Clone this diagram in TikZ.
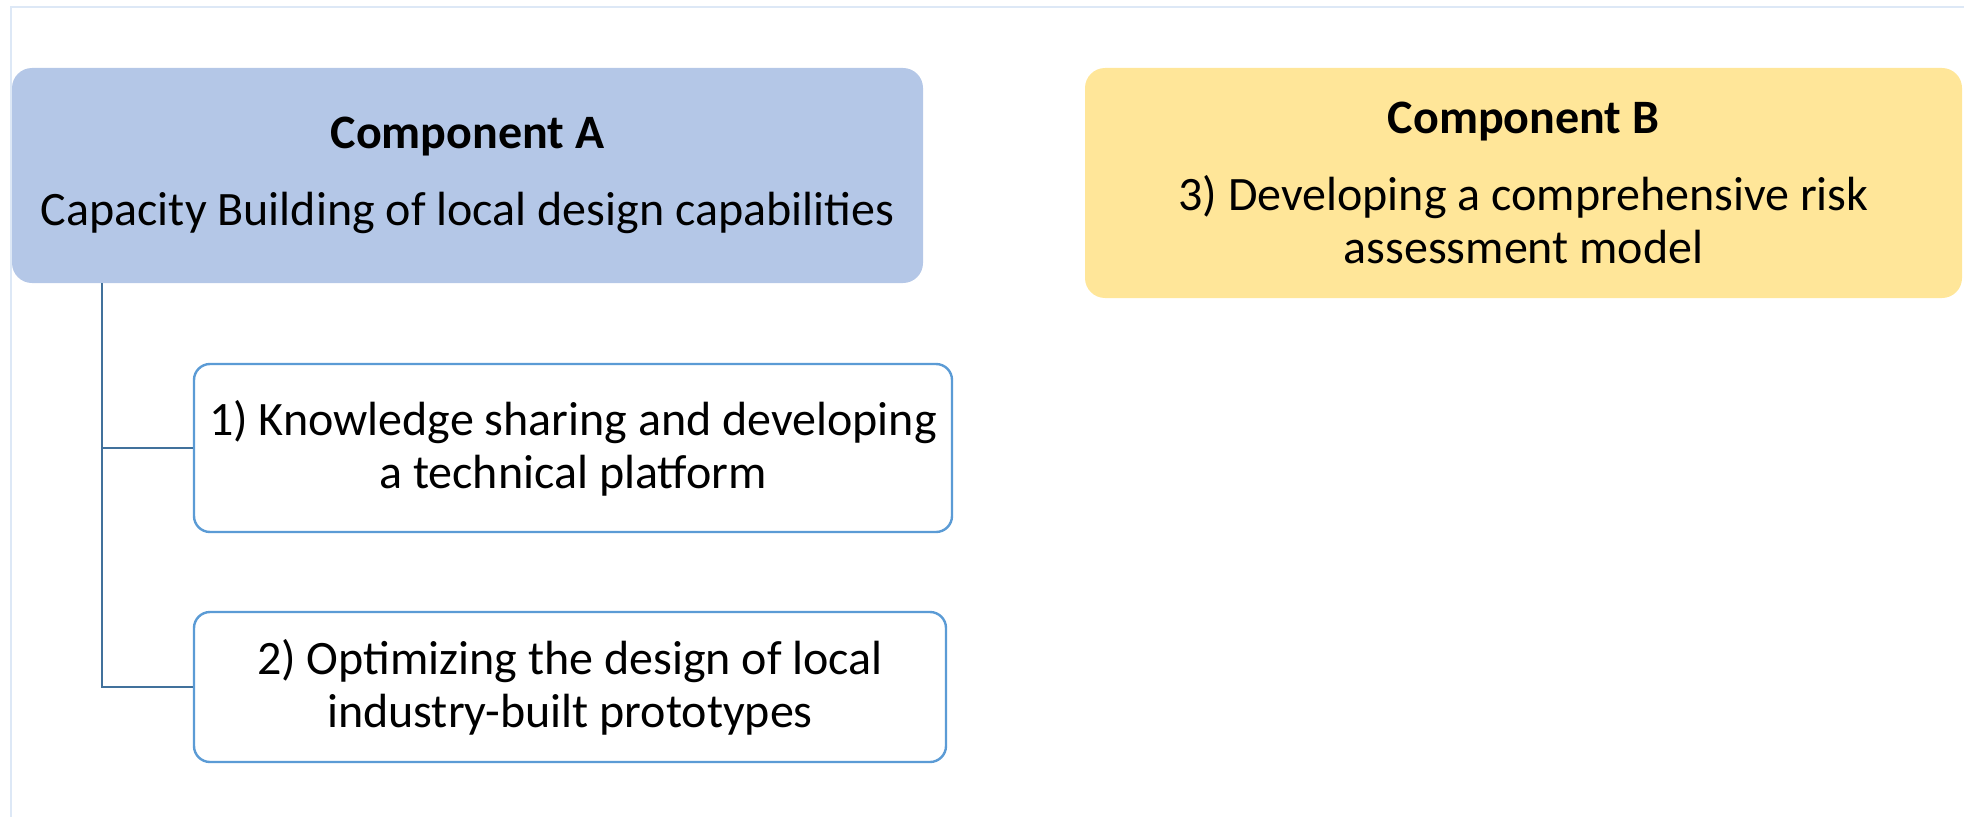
\documentclass[tikz,border=0pt]{standalone}
\usepackage{fontspec}
\setmainfont{Carlito}

\definecolor{compA}{HTML}{B4C7E7}
\definecolor{compB}{HTML}{FFE699}
\definecolor{itemline}{HTML}{5B9BD5}
\definecolor{treeline}{HTML}{41719C}
\definecolor{frameline}{HTML}{DDE8F6}

\tikzset{
  comp/.style={rounded corners=10pt, align=center, inner sep=0pt,
    font=\fontsize{24}{26.5}\selectfont},
  item/.style={draw=itemline, line width=1.2pt, fill=white, rounded corners=8pt,
    align=center, inner sep=0pt, font=\fontsize{24}{26.5}\selectfont},
  branch/.style={draw=treeline, line width=1.4pt}
}

\begin{document}
\begin{tikzpicture}[x=1pt,y=1pt]
            \useasboundingbox (0,0) rectangle (982,408);
            \draw[frameline, line width=1pt] (5.5,-20) |- (1000,404.5);

            \node[comp, fill=compA, minimum width=455.5pt, minimum height=107.5pt]
              (compA) at (233.75,320.25)
              {\textbf{Component A}\\[12pt] Capacity Building of local design capabilities};
            \node[comp, fill=compB, minimum width=438.5pt, minimum height=115pt]
              (compB) at (761.75,316.5)
              {\textbf{Component B}\\[12pt] 3) Developing a comprehensive risk\\ assessment model};

            \node[item, minimum width=379pt, minimum height=84pt] (know) at (286.5,184)
              {1) Knowledge sharing and developing\\ a technical platform};
            \node[item, minimum width=376pt, minimum height=75pt] (proto) at (285,64.5)
              {2) Optimizing the design of local\\ industry-built prototypes};

            \coordinate (trunk) at (compA.south -| 51,0);
            \foreach \b in {know,proto}
              \draw[branch] (trunk) |- (\b.west);
            \end{tikzpicture}
\end{document}
